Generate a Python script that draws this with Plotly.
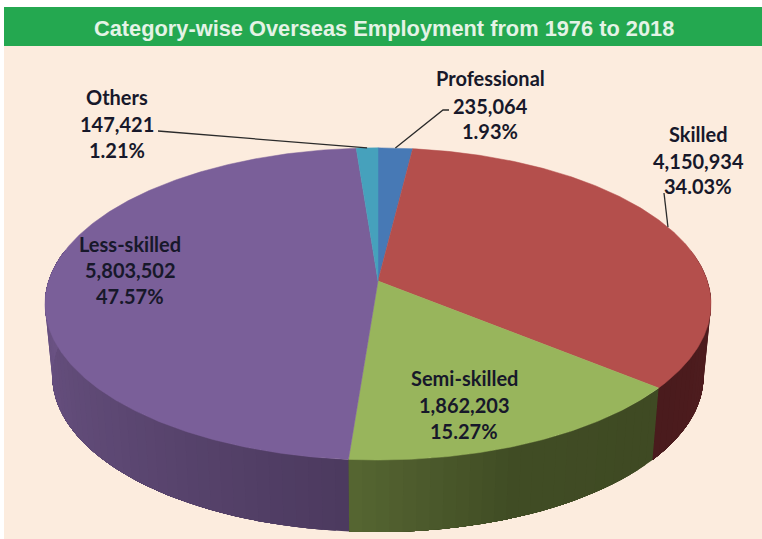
"""
Category-wise overseas employment: 3D-look pie drawn with filled scatter traces
"""
import numpy as np
import plotly.graph_objects as go

# Data
categories = ['Professional', 'Skilled', 'Semi-skilled', 'Less-skilled', 'Others']
employment = [235064, 4150934, 1862203, 5803502, 147421]
title_text = 'Category-wise Overseas Employment from 1976 to 2018'

# Colours
top_colors = ['#4779B5', '#B44F4C', '#98B55C', '#7A5F99', '#46A1BC']
# side shade by clock angle of the rim, per slice
side_stops = {
    'Professional': [(0, '#2C4A70'), (30, '#2C4A70')],
    'Skilled': [(70, '#541F21'), (130, '#4A1B1D')],
    'Semi-skilled': [(129, '#3F4A23'), (160, '#414D25'), (184, '#566632')],
    'Less-skilled': [(184, '#4C3A5F'), (225, '#5D4873'), (285, '#6F5689')],
    'Others': [(350, '#2C6B7E'), (360, '#2C6B7E')],
}

# Layout in pixels
W, H = 762, 539
CX, CY = 378, 281
RX, RY, PERSP = 329.4, 152.7, 0.147
BASE_SCALE_X, BASE_SCALE_Y, BASE_DROP = 0.978, 1.0, 72

label_x = [490, 698, 464, 130, 117]
label_y = [[78, 106, 131], [134, 161, 186], [378, 405, 431], [244, 270, 296], [97, 124, 150]]
leader_from = [[(449, 110), (443, 110)], [(664, 193)], None, None, [(158, 131)]]


def project(deg, scale_x=1.0, scale_y=1.0, drop=0.0):
    """Clock angle on the disc to picture pixels, with a bit of perspective"""
    rad = np.radians(deg)
    px, py = np.sin(rad), -np.cos(rad)
    den = 1 - PERSP * py
    return CX + scale_x * RX * px / den, CY + drop + scale_y * RY * py / den


def shade(stops, deg):
    """Interpolate side colour between the stops"""
    angles = [s[0] for s in stops]
    rgb = [[int(s[1][i:i + 2], 16) for s in stops] for i in (1, 3, 5)]
    r, g, b = [int(np.interp(deg, angles, c)) for c in rgb]
    return f'rgb({r},{g},{b})'


total = sum(employment)
shares = [v / total for v in employment]
edges = np.concatenate([[0], np.cumsum(shares) * 360])

fig = go.Figure()

# Side wall, thin strips for the gradient. Each strip runs on to the end of
# the slice and the next one paints over it, so no seams show
for name, start, end in zip(categories, edges[:-1], edges[1:]):
    lo, hi = max(start, 78), min(end, 282)
    if lo >= hi:
        continue
    steps = np.linspace(lo, hi, max(2, int((hi - lo) / 2) + 1))
    for a, b in zip(steps[:-1], steps[1:]):
        arc = np.linspace(a, hi, max(2, int((hi - a) / 2) + 1))
        xt, yt = project(arc)
        xb, yb = project(arc[::-1], BASE_SCALE_X, BASE_SCALE_Y, BASE_DROP)
        fig.add_trace(go.Scatter(
            x=np.concatenate([xt, xb, xt[:1]]),
            y=np.concatenate([yt, yb, yt[:1]]),
            mode='lines',
            fill='toself',
            fillcolor=shade(side_stops[name], (a + b) / 2),
            line=dict(width=0),
            hoverinfo='skip',
            showlegend=False
        ))

# Top face
for name, color, value, start, end in zip(categories, top_colors, employment, edges[:-1], edges[1:]):
    angles = np.linspace(start, end, max(3, int(end - start) * 2))
    rim_x, rim_y = project(angles)
    fig.add_trace(go.Scatter(
        x=np.concatenate([[CX], rim_x, [CX]]),
        y=np.concatenate([[CY], rim_y, [CY]]),
        mode='lines',
        fill='toself',
        fillcolor=color,
        line=dict(color=color, width=0.5),
        name=name,
        text=f'{name}: {value:,}',
        hoverinfo='text',
        showlegend=False
    ))

# Leader lines, ending on the middle of the slice rim
for i, points in enumerate(leader_from):
    if points is None:
        continue
    tip = project((edges[i] + edges[i + 1]) / 2)
    fig.add_trace(go.Scatter(
        x=[p[0] for p in points] + [tip[0]],
        y=[p[1] for p in points] + [tip[1]],
        mode='lines',
        line=dict(color='#2B2B2B', width=1.3),
        hoverinfo='skip',
        showlegend=False
    ))

# Labels
for i, name in enumerate(categories):
    lines = [name, f'{employment[i]:,}', f'{shares[i] * 100:.2f}%']
    for line, y in zip(lines, label_y[i]):
        fig.add_annotation(
            x=label_x[i], y=y, text=f'<b>{line}</b>', showarrow=False,
            xanchor='center', yanchor='middle',
            font=dict(family='Lato', size=20, color='#17182A')
        )

fig.add_annotation(
    x=384, y=28, text=f'<b>{title_text}</b>', showarrow=False,
    xanchor='center', yanchor='middle',
    font=dict(family='Liberation Sans', size=21.8, color='#E4F3E6')
)

fig.update_layout(
    width=W,
    height=H,
    autosize=False,
    margin=dict(l=0, r=0, t=0, b=0),
    paper_bgcolor='#FFFFFF',
    plot_bgcolor='#FFFFFF',
    xaxis=dict(range=[0, W], visible=False, fixedrange=True),
    yaxis=dict(range=[H, 0], visible=False, fixedrange=True),
    shapes=[
        dict(type='rect', x0=4, x1=W, y0=46, y1=H, layer='below',
             fillcolor='#FCECDE', line_width=0),
        dict(type='rect', x0=4, x1=W, y0=7, y1=46, layer='below',
             fillcolor='#24A850', line_width=0),
    ]
)

fig.write_html('out.html', config=dict(displayModeBar=False),
               post_script="document.body.style.margin='0';")
